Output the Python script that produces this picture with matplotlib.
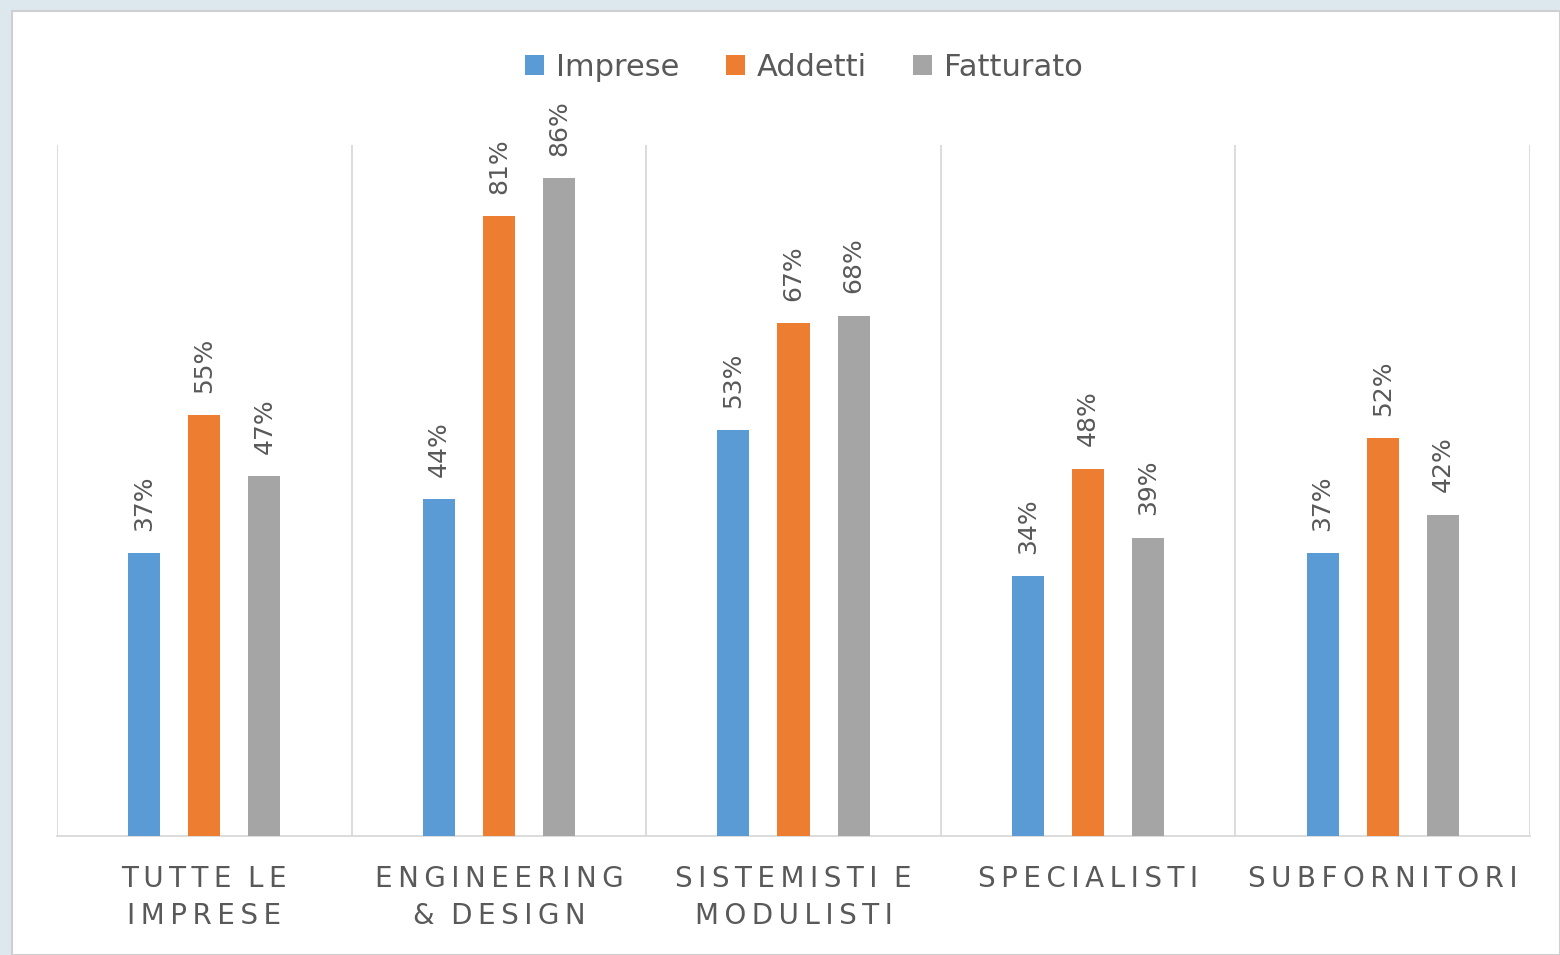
import numpy as np
import matplotlib.pyplot as plt
from matplotlib.patches import Patch, Rectangle

# Dati
categorie = ["TUTTE LE\nIMPRESE", "ENGINEERING\n& DESIGN", "SISTEMISTI E\nMODULISTI",
             "SPECIALISTI", "SUBFORNITORI"]
imprese = [37, 44, 53, 34, 37]
addetti = [55, 81, 67, 48, 52]
fatturato = [47, 86, 68, 39, 42]
serie = ["Imprese", "Addetti", "Fatturato"]
colori = ["#5B9BD5", "#ED7D31", "#A5A5A5"]

testo = "#595959"
plt.rcParams["font.family"] = ["DejaVu Sans"]


def spaziato(s):
    # simula la spaziatura tra lettere di Excel
    righe = [r.replace(" ", "\u2009") for r in s.split("\n")]
    return "\n".join("\u2009".join(r) for r in righe)


fig = plt.figure(figsize=(15.6, 9.55), dpi=100)
fig.patch.set_facecolor("#dde8ee")
# pannello bianco dietro al grafico
pannello = Rectangle((12 / 1560, 0), 1 - 12 / 1560, 1 - 11 / 955,
                     transform=fig.transFigure, facecolor="white",
                     edgecolor="#cfcfcf", linewidth=1.5, zorder=-10)
fig.add_artist(pannello)

ax = fig.add_axes([57 / 1560, 119 / 955, (1530 - 57) / 1560, (836 - 145) / 955])
ax.set_facecolor("none")

x = np.arange(len(categorie))
passo = 0.204
larg = 0.109
for k, (valori, nome, col) in enumerate(zip([imprese, addetti, fatturato], serie, colori)):
    pos = x + (k - 1) * passo
    ax.bar(pos, valori, width=larg, color=col, zorder=3)
    for px, v in zip(pos, valori):
        ax.annotate(f"{v}%", (px, v), xytext=(0, 16), textcoords="offset points",
                    rotation=90, ha="center", va="bottom", fontsize=18, color=testo)

ax.set_xlim(-0.5, len(categorie) - 0.5)
ax.set_ylim(0, 90.3)
for b in np.arange(-0.5, len(categorie), 1.0):
    ax.axvline(b, color="#d9d9d9", linewidth=1.3, zorder=1)

for s in ["top", "left", "right"]:
    ax.spines[s].set_visible(False)
ax.spines["bottom"].set_color("#d9d9d9")
ax.spines["bottom"].set_linewidth(1.3)
ax.set_yticks([])
ax.set_xticks(x)
ax.set_xticklabels([spaziato(c) for c in categorie], fontsize=20, color=testo,
                   linespacing=1.38, va="top")
ax.tick_params(axis="x", length=0, pad=21)

maniglie = [Patch(facecolor=c, label=n) for c, n in zip(colori, serie)]
leg = fig.legend(handles=maniglie, loc="center", bbox_to_anchor=(804 / 1560, 1 - 67 / 955),
                 ncol=3, frameon=False, fontsize=22, handlelength=0.62, handleheight=0.62,
                 handletextpad=0.4, columnspacing=1.5)
for t in leg.get_texts():
    t.set_color(testo)

fig.savefig("out.png", dpi=100, facecolor=fig.get_facecolor())
